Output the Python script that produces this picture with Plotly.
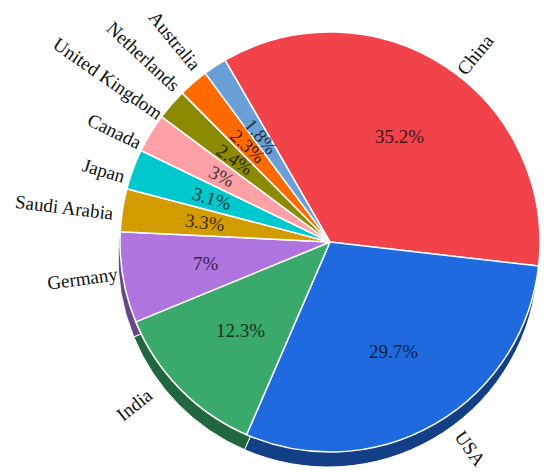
import math
import plotly.graph_objects as go

countries = ["China", "USA", "India", "Germany", "Saudi Arabia", "Japan",
             "Canada", "United Kingdom", "Netherlands", "Australia"]
shares = [35.2, 29.7, 12.3, 7.0, 3.3, 3.1, 3.0, 2.4, 2.3, 1.8]
slice_colors = ["#f2424a", "#1e6ade", "#3aaa6c", "#b074de", "#d29c00", "#00c8cd",
                "#ffa0a6", "#8c8a00", "#ff6a00", "#6a9fd6"]

# the page body has an 8px margin, so the figure is drawn 8px in
W, H = 542, 464
cx, cy, R = 322, 234, 210
depth_dx, depth_dy = -2, 15
rotation = -30
FONT = "Liberation Serif, Times New Roman, serif"


def shade(hexcol, f):
    h = hexcol.lstrip("#")
    r, g, b = (int(h[i:i + 2], 16) for i in (0, 2, 4))
    return "rgb(%d,%d,%d)" % (int(r * f), int(g * f), int(b * f))


side_colors = [shade(c, 0.6) for c in slice_colors]
text_colors = [shade(c, 0.3) for c in slice_colors]


def dom(x0, y0):
    return dict(x=[(x0 - R) / W, (x0 + R) / W],
                y=[(H - y0 - R) / H, (H - y0 + R) / H])


fig = go.Figure()
# side (depth) of the pie
fig.add_trace(go.Pie(
    labels=countries, values=shares, sort=False, direction="clockwise",
    rotation=rotation, domain=dom(cx + depth_dx, cy + depth_dy),
    marker=dict(colors=side_colors, line=dict(color="white", width=1)),
    textinfo="none", hoverinfo="skip", showlegend=False))
# top surface
fig.add_trace(go.Pie(
    labels=countries, values=shares, sort=False, direction="clockwise",
    rotation=rotation, domain=dom(cx, cy),
    marker=dict(colors=slice_colors, line=dict(color="white", width=1.5)),
    textinfo="none",
    hovertemplate="%{label}: %{value}%<extra></extra>", showlegend=False))

total = sum(shares)
fs = 19
k_ang = 0.8
k_pos = 0.85


def radial_angle(s, c):
    ang = math.degrees(math.atan2(-k_ang * c, s))
    if s < 0:
        ang += 180
    if ang > 180:
        ang -= 360
    return ang


acc = 0.0
for name, v, tc in zip(countries, shares, text_colors):
    mid = rotation + (acc + v / 2) / total * 360
    acc += v
    t = math.radians(mid)
    s, c = math.sin(t), math.cos(t)

    # percentage inside the slice
    rp = 0.6 * R
    ang_p = radial_angle(s, c) if v < 5 else 0
    fig.add_annotation(x=(cx + rp * s) / W, y=1 - (cy - rp * c) / H,
                       xref="paper", yref="paper", xanchor="center", yanchor="middle",
                       text=("%g%%" % v), showarrow=False, textangle=ang_p,
                       font=dict(family=FONT, size=fs, color=tc))

    # country name outside, along the radius
    est_w = len(name) * 0.45 * fs
    pad = 6 + 24 * max(0.0, -c)
    r = R + pad + est_w / 2
    dxp, dyp = s, -k_pos * c
    n = math.hypot(dxp, dyp)
    px = cx + r * dxp / n
    py = cy + r * dyp / n
    fig.add_annotation(x=px / W, y=1 - py / H, xref="paper", yref="paper",
                       xanchor="center", yanchor="middle",
                       text=name, showarrow=False, textangle=radial_angle(s, c),
                       font=dict(family=FONT, size=fs, color="#111"))

fig.update_layout(width=W, height=H, margin=dict(l=0, r=0, t=0, b=0),
                  paper_bgcolor="white", plot_bgcolor="white", showlegend=False)
fig.write_html("out.html")
